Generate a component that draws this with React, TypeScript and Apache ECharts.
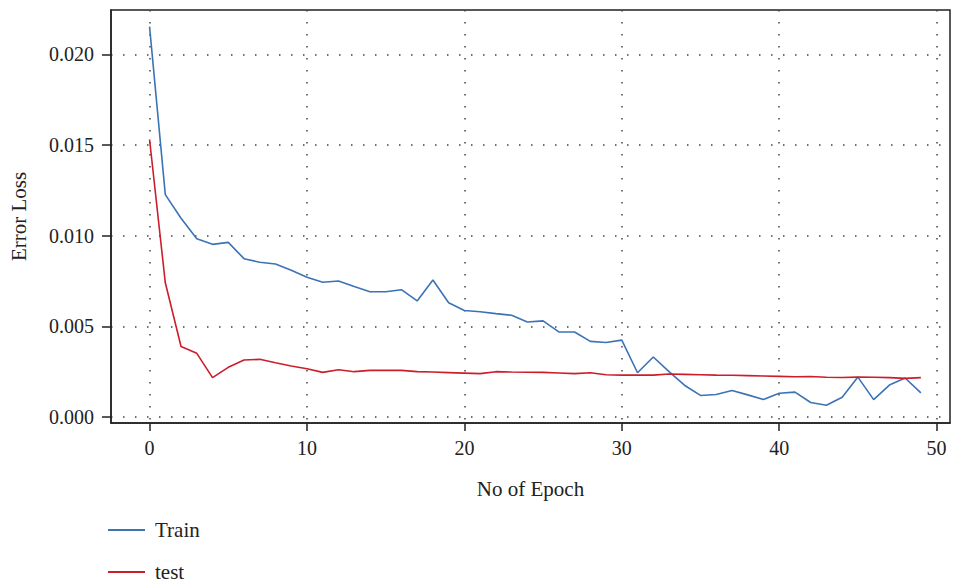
import React, { useEffect, useRef } from "react";
import * as echarts from "echarts";

const epochs: number[] = Array.from({ length: 50 }, (_, i) => i);

const trainLoss: number[] = [
  0.02152, 0.01226, 0.01096, 0.00983, 0.00952, 0.00963, 0.00873, 0.00853, 0.00844, 0.00809,
  0.0077, 0.00743, 0.0075, 0.00719, 0.00691, 0.00691, 0.00702, 0.0064, 0.00755, 0.0063,
  0.00587, 0.0058, 0.0057, 0.00561, 0.00524, 0.0053, 0.00469, 0.00469, 0.00417, 0.00411,
  0.00424, 0.00244, 0.00331, 0.0025, 0.00174, 0.00119, 0.00124, 0.00146, 0.00122, 0.00096,
  0.00131, 0.00137, 0.0008, 0.00065, 0.00109, 0.0022, 0.00096, 0.00176, 0.00215, 0.00133,
];

const testLoss: number[] = [
  0.0153, 0.0074, 0.00389, 0.00351, 0.00217, 0.00274, 0.00314, 0.00318, 0.00299, 0.00281,
  0.00266, 0.00246, 0.00261, 0.0025, 0.00257, 0.00257, 0.00257, 0.0025, 0.00248, 0.00245,
  0.00242, 0.00239, 0.0025, 0.00248, 0.00247, 0.00246, 0.00243, 0.00239, 0.00244, 0.00233,
  0.00231, 0.00231, 0.00231, 0.00237, 0.00235, 0.00233, 0.00231, 0.0023, 0.00228, 0.00226,
  0.00224, 0.00222, 0.00223, 0.00219, 0.00218, 0.0022, 0.00219, 0.00217, 0.00213, 0.00217,
];

const xTicks: number[] = [0, 10, 20, 30, 40, 50];
const yTicks: number[] = [0, 0.005, 0.01, 0.015, 0.02];

const FONT = "'Liberation Serif', 'DejaVu Serif', serif";

export default function App() {
  const ref = useRef<HTMLDivElement>(null);
  useEffect(() => {
    if (!ref.current) return;
    const chart = echarts.init(ref.current, undefined, { renderer: "svg" });
    const gridLine = { show: true, lineStyle: { color: "#444", width: 1.5, type: [1.5, 10.5] as any } };
    chart.setOption({
      animation: false,
      backgroundColor: "#fff",
      grid: {
        left: 110,
        right: 3,
        top: 10,
        bottom: 163,
        show: true,
        borderColor: "#222",
        borderWidth: 1.5,
      },
      legend: {
        orient: "vertical",
        left: 108,
        top: 519,
        padding: 0,
        icon: "rect",
        itemWidth: 37,
        itemHeight: 2,
        itemGap: 20,
        textStyle: { fontFamily: FONT, fontSize: 21, color: "#222", padding: [0, 0, 0, 5], lineHeight: 22 },
        data: ["Train", "test"],
      },
      xAxis: {
        type: "value",
        min: -2.45,
        max: 50.85,
        name: "No of Epoch",
        nameLocation: "middle",
        nameGap: 55,
        nameTextStyle: { fontFamily: FONT, fontSize: 21, color: "#222" },
        axisLine: { show: true, onZero: false, lineStyle: { color: "#222", width: 1.5 } },
        axisTick: { show: true, length: 8, customValues: xTicks, lineStyle: { color: "#222", width: 1.5 } },
        axisLabel: { customValues: xTicks, fontFamily: FONT, fontSize: 20, color: "#222", margin: 15 },
        splitLine: gridLine,
      },
      yAxis: {
        type: "value",
        min: -0.00033,
        max: 0.02244,
        name: "Error Loss",
        nameLocation: "middle",
        nameGap: 82,
        nameTextStyle: { fontFamily: FONT, fontSize: 21, color: "#222" },
        axisLine: { show: true, onZero: false, lineStyle: { color: "#222", width: 1.5 } },
        axisTick: { show: true, length: 9, customValues: yTicks, lineStyle: { color: "#222", width: 1.5 } },
        axisLabel: {
          customValues: yTicks,
          fontFamily: FONT,
          fontSize: 20,
          color: "#222",
          margin: 17,
          formatter: (v: number) => v.toFixed(3),
        },
        splitLine: gridLine,
      },
      series: [
        {
          name: "Train",
          type: "line",
          symbol: "none",
          data: epochs.map((e, i) => [e, trainLoss[i]]),
          lineStyle: { color: "#3c73b7", width: 1.6 },
          itemStyle: { color: "#3c73b7" },
        },
        {
          name: "test",
          type: "line",
          symbol: "none",
          data: epochs.map((e, i) => [e, testLoss[i]]),
          lineStyle: { color: "#cc1d2b", width: 1.6 },
          itemStyle: { color: "#cc1d2b" },
        },
      ],
    });
    return () => chart.dispose();
  }, []);
  return <div ref={ref} style={{ width: 953, height: 586, position: "absolute", left: 0, top: 0 }} />;
}
